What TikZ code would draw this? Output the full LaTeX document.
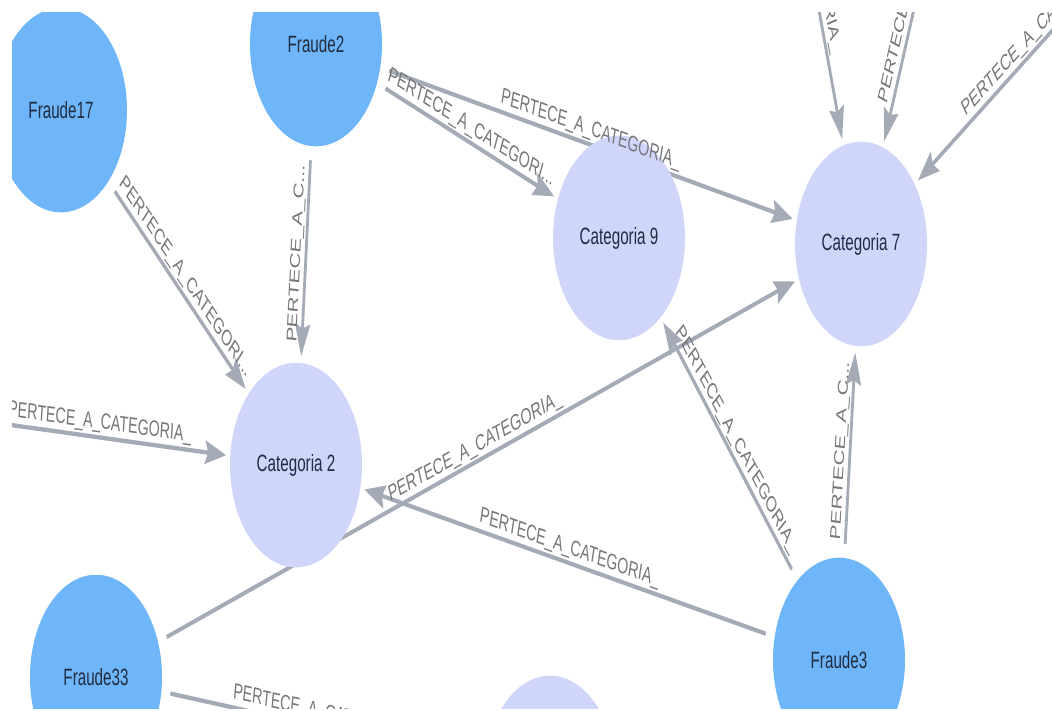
\documentclass[tikz,border=0pt]{standalone}
\usepackage{fontspec}
\setmainfont{Liberation Sans}
\usetikzlibrary{arrows.meta}
\pgfdeclarelayer{edges}
\pgfsetlayers{edges,main}
\definecolor{fraudeblue}{RGB}{110,182,249}
\definecolor{catlilac}{RGB}{208,214,250}
\definecolor{relgray}{RGB}{165,171,182}
\definecolor{reltext}{RGB}{118,118,124}
\definecolor{captext}{RGB}{32,44,66}
\tikzset{
	stretch/.style={transform canvas={yscale=1.55}},
	fraude/.style={circle, fill=fraudeblue, minimum size=132pt, inner sep=0pt, text=captext, font=\fontsize{15.2}{17}\selectfont},
	categoria/.style={fraude, fill=catlilac},
	rel/.style={draw=relgray, line width=2.8pt, -{Stealth[length=21pt,width=15pt,inset=3pt]}, shorten <=9pt, shorten >=4pt},
	rellabel/.style={midway, sloped, above=1.5pt, inner sep=1pt, text=reltext, font=\fontsize{14.3}{16}\selectfont},
}
\def\relacao(#1)(#2)#3{%
	\begin{pgfonlayer}{edges}
		\begin{scope}
			\clip (12,-12) rectangle (1052,-708);
			\begin{scope}[stretch]
				\draw[rel] (#1) -- (#2);
			\end{scope}
		\end{scope}
	\end{pgfonlayer}
	\path (#1) -- node[rellabel] {#3} (#2);
}

\begin{document}
\begin{tikzpicture}[x=1pt, y=1pt]
			%%%%% START %%%%%
			\useasboundingbox (0,0) rectangle (1052,-710);
			
			\begin{scope}
			\clip (12,-12) rectangle (1052,-708);
			\begin{scope}[stretch]
			
			\node[fraude] (f17) at (61, -71.0) {Fraude17};
			\node[fraude] (f2) at (316, -28.4) {Fraude2};
			\node[fraude] (f3) at (839, -425.8) {Fraude3};
			\node[fraude] (f33) at (96, -436.8) {Fraude33};
			
			\node[categoria] (c2) at (296, -300.0) {Categoria 2};
			\node[categoria] (c9) at (619, -153.5) {Categoria 9};
			\node[categoria] (c7) at (861, -157.4) {Categoria 7};
			\node[categoria] (cb) at (550, -501.9) {};
			
			% ends outside the view
			\coordinate (srcl) at (-32, -270.3);
			\coordinate (srca) at (762, 198.1);
			\coordinate (srcb) at (938.6, 64.5);
			\coordinate (srcc) at (1172, 66.5);
			
			\relacao(f17)(c2){PERTECE\_A\_CATEGORI...}
			\relacao(f2)(c2){PERTECE\_A\_C...}
			\relacao(f2)(c9){PERTECE\_A\_CATEGORI...}
			\relacao(f2)(c7){PERTECE\_A\_CATEGORIA\_}
			\relacao(srcl)(c2){PERTECE\_A\_CATEGORIA\_}
			\relacao(f33)(c7){PERTECE\_A\_CATEGORIA\_}
			\relacao(f33)(cb){PERTECE\_A\_CATEGORIA\_}
			\relacao(f3)(c2){PERTECE\_A\_CATEGORIA\_}
			\relacao(f3)(c9){PERTECE\_A\_CATEGORIA\_}
			\relacao(f3)(c7){PERTECE\_A\_C...}
			\relacao(srca)(c7){PERTECE\_A\_CATEGORIA\_}
			\relacao(srcb)(c7){PERTECE\_A\_C...}
			\relacao(srcc)(c7){PERTECE\_A\_CATEGORIA\_}
			
			\end{scope}
			\end{scope}
			%%%%% END %%%%%
\end{tikzpicture}
\end{document}
